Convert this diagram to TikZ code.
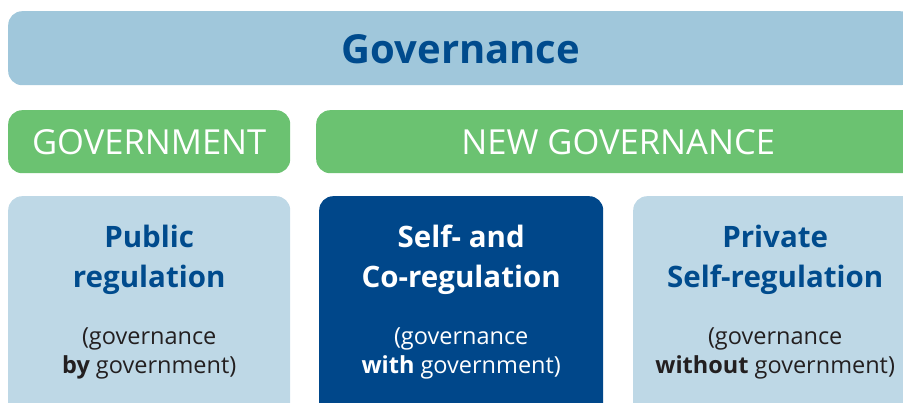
\documentclass[tikz,border=0pt]{standalone}
\usepackage{fontspec}
\setmainfont{Open Sans}
\usetikzlibrary{positioning}

\definecolor{topblue}{HTML}{A0C7DB}
\definecolor{govgreen}{HTML}{6BC271}
\definecolor{paleblue}{HTML}{BED8E6}
\definecolor{deepblue}{HTML}{00478A}
\definecolor{inkblue}{HTML}{004B8D}
\definecolor{inkblack}{HTML}{231F20}

\begin{document}
\begin{tikzpicture}[x=1pt, y=-1pt, panel/.style={rounded corners=14pt,
      anchor=north west, inner sep=0pt}, topbar/.style={panel, fill=topblue},
    greenbar/.style={panel, fill=govgreen, minimum height=63pt},
    regbox/.style={panel, minimum width=283pt, minimum height=230pt},
    title/.style={anchor=base, align=center,
      font=\fontsize{29.5pt}{40pt}\selectfont\bfseries},
    note/.style={anchor=base, align=center, text=inkblack,
      font=\fontsize{23.5pt}{29pt}\selectfont}, ]

    \useasboundingbox (0,0) rectangle (903,402);
    \clip (0,0) rectangle (903,402);

    % Top bar
    \node[topbar, minimum width=906pt, minimum height=74pt] (gov) at (8,11) {};
    \node[anchor=base, text=inkblue, font=\fontsize{40pt}{48pt}\selectfont\bfseries]
    (govtext) at (461,63) {Governance};

    % Green bars
    \node[greenbar, minimum width=282pt] (govt) at (8,110) {};
    \node[greenbar, minimum width=604pt] (newgov) at (316,110) {};
    \node[anchor=base, text=white, font=\fontsize{34.5pt}{40pt}\selectfont]
    at (govt.center |- 0,154) {GOVERNMENT};
    \node[anchor=base, text=white, font=\fontsize{34.5pt}{40pt}\selectfont]
    at (newgov.center |- 0,154) {NEW GOVERNANCE};

    % Regulation boxes
    \node[regbox, fill=paleblue, minimum width=282pt] (public) at (8,196) {};
    \node[regbox, fill=deepblue, minimum width=284pt] (coreg) at (319,196) {};
    \node[regbox, fill=paleblue, minimum width=284pt] (private) at (633,196) {};

    % Labels inside boxes (base = last line)
    \node[title, text=inkblue] at (public.center |- 0,287)
    {Public\\regulation};
    \node[title, text=white] at (coreg.center |- 0,287)
    {Self- and\\Co-regulation};
    \node[title, text=inkblue] at (private.center |- 0,287)
    {Private\\Self-regulation};

    \node[note] at (public.center |- 0,373)
    {(governance\\\textbf{by} government)};
    \node[note, text=white] at (coreg.center |- 0,373)
    {(governance\\\textbf{with} government)};
    \node[note] at (private.center |- 0,373)
    {(governance\\\textbf{without} government)};

\end{tikzpicture}
\end{document}
